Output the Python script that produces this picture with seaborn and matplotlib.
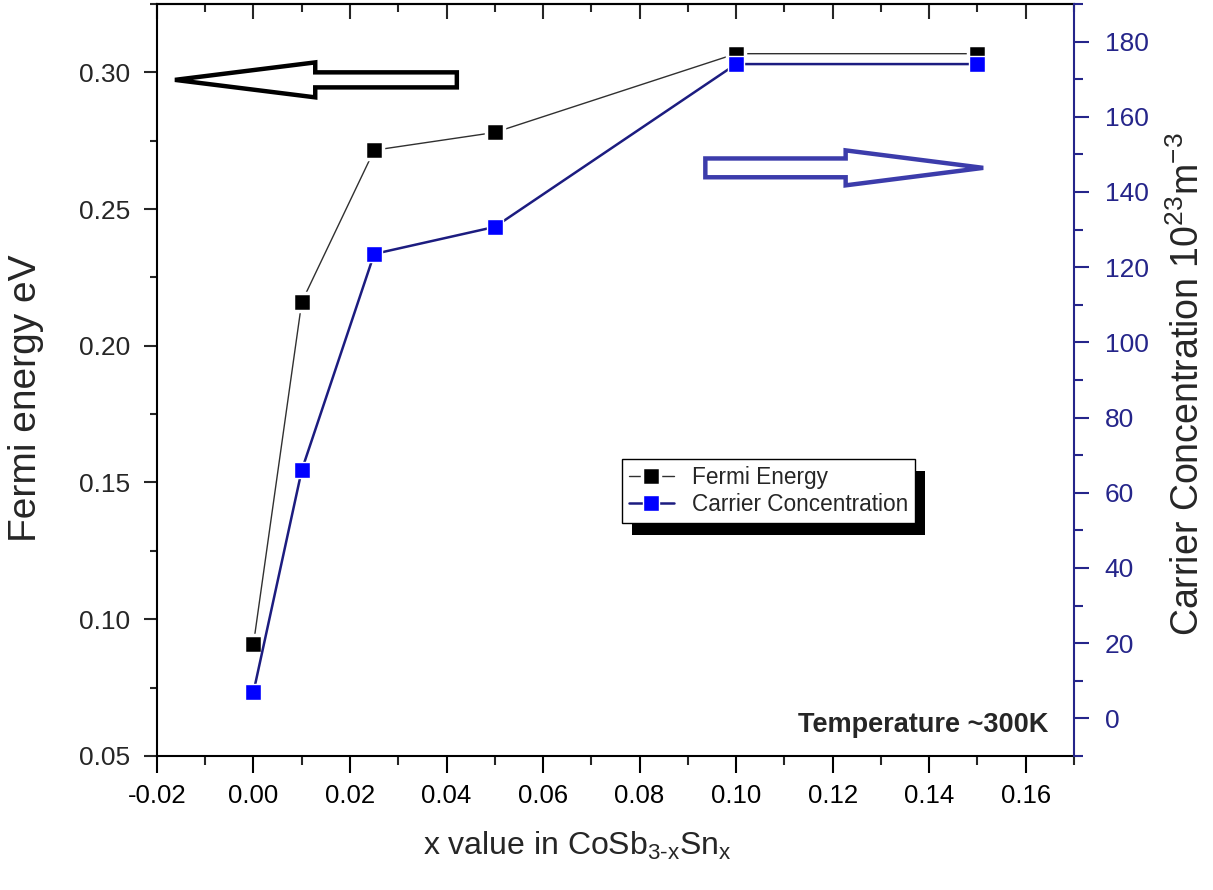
import matplotlib
matplotlib.use("Agg")
import matplotlib.pyplot as plt
import seaborn as sns
from matplotlib.patches import FancyArrow, Rectangle
from matplotlib.ticker import MultipleLocator, FormatStrFormatter
from matplotlib.transforms import IdentityTransform

# ---- data ----
x_vals = [0.0, 0.01, 0.025, 0.05, 0.10, 0.15]
fermi_energy = [0.091, 0.216, 0.2715, 0.278, 0.3068, 0.3068]
carrier_conc = [7.0, 66.0, 123.5, 130.7, 174.0, 174.0]
series_labels = ["Fermi Energy", "Carrier Concentration"]
x_label = "x value in CoSb$_{3\\text{-}x}$Sn$_{x}$"
y_label_left = "Fermi energy eV"
y_label_right = "Carrier Concentration 10$^{23}$m$^{-3}$"
note_text = "Temperature ~300K"

sns.set_style("ticks")
plt.rcParams["font.family"] = ["Liberation Sans", "DejaVu Sans"]
plt.rcParams["mathtext.fontset"] = "custom"
plt.rcParams["mathtext.rm"] = "Liberation Sans"
plt.rcParams["mathtext.it"] = "Liberation Sans"
plt.rcParams["mathtext.default"] = "regular"
plt.rcParams["axes.unicode_minus"] = False

navy = "#25258a"
blue_line = "#1c1c80"

fig = plt.figure(figsize=(12.13, 8.90), dpi=100)
ax = fig.add_axes([0.1294, 0.1506, 0.7560, 0.8450])
ax2 = ax.twinx()

sns.lineplot(x=x_vals, y=fermi_energy, ax=ax, color="#303030", lw=1.0,
             marker="s", markersize=13, markerfacecolor="black",
             markeredgecolor="white", markeredgewidth=2.5,
             label=series_labels[0], legend=False)
sns.lineplot(x=x_vals, y=carrier_conc, ax=ax2, color=blue_line, lw=1.8,
             marker="s", markersize=11.2, markerfacecolor="#0000ff",
             markeredgecolor="white", markeredgewidth=1.0,
             label=series_labels[1], legend=False)

# axes limits / ticks
ax.set_xlim(-0.02, 0.17)
ax.set_ylim(0.05, 0.325)
ax2.set_ylim(-10, 190)

ax.xaxis.set_major_locator(MultipleLocator(0.02))
ax.xaxis.set_minor_locator(MultipleLocator(0.01))
ax.xaxis.set_major_formatter(FormatStrFormatter("%.2f"))
ax.yaxis.set_major_locator(MultipleLocator(0.05))
ax.yaxis.set_minor_locator(MultipleLocator(0.025))
ax.yaxis.set_major_formatter(FormatStrFormatter("%.2f"))
ax2.yaxis.set_major_locator(MultipleLocator(20))
ax2.yaxis.set_minor_locator(MultipleLocator(10))

ax.tick_params(axis="x", which="major", direction="out", length=12, width=1.5,
               labelsize=18.5, pad=8.5, colors="black")
ax.tick_params(axis="x", which="minor", direction="out", length=6.5, width=1.5)
ax.tick_params(axis="y", which="major", direction="out", length=9.5, width=1.5,
               labelsize=19, pad=9.5)
ax.tick_params(axis="y", which="minor", direction="out", length=5, width=1.5)
ax2.tick_params(axis="y", which="major", direction="out", length=11, width=1.5,
                labelsize=19, pad=11, colors=navy)
ax2.tick_params(axis="y", which="minor", direction="out", length=6.5, width=1.5,
                colors=navy)

sec = ax.secondary_xaxis("top")
sec.xaxis.set_major_locator(MultipleLocator(0.02))
sec.xaxis.set_minor_locator(MultipleLocator(0.01))
sec.tick_params(axis="x", which="major", direction="in", length=11, width=1.5,
                labeltop=False)
sec.tick_params(axis="x", which="minor", direction="in", length=6, width=1.5)
sec.spines["top"].set_linewidth(1.5)

for s in ["left", "bottom", "top"]:
    ax.spines[s].set_linewidth(1.5)
    ax.spines[s].set_color("black")
ax.spines["right"].set_visible(False)
for s in ["left", "bottom", "top"]:
    ax2.spines[s].set_visible(False)
ax2.spines["right"].set_visible(True)
ax2.spines["right"].set_color(navy)
ax2.spines["right"].set_linewidth(1.5)

ax.set_xlabel(x_label, fontsize=23)
ax.xaxis.set_label_coords(0.458, -0.098)
ax.set_ylabel(y_label_left, fontsize=28)
ax.yaxis.set_label_coords(-0.123, 0.476)
ax2.set_ylabel(y_label_right, fontsize=27)
ax2.yaxis.set_label_coords(1.104, 0.494)

# arrows
ax.add_patch(FancyArrow(0.327, 0.899, -0.3074, 0.0, width=0.02,
                        head_width=0.0465, head_length=0.153,
                        length_includes_head=True, transform=ax.transAxes,
                        facecolor="white", edgecolor="black", linewidth=3.2,
                        joinstyle="miter", zorder=5))
ax.add_patch(FancyArrow(0.598, 0.782, 0.303, 0.0, width=0.025,
                        head_width=0.0465, head_length=0.150,
                        length_includes_head=True, transform=ax.transAxes,
                        facecolor="white", edgecolor="#3c3cab", linewidth=3.2,
                        joinstyle="miter", zorder=5))

ax.text(0.9716, 0.041, note_text, transform=ax.transAxes, ha="right",
        va="center", fontsize=19.5, fontweight="bold")

# legend
h1 = ax.get_lines()[0]
h2 = ax2.get_lines()[0]
leg = ax2.legend([h1, h2], series_labels, loc="upper left",
                 bbox_to_anchor=(0.507, 0.395), frameon=True, fancybox=False,
                 edgecolor="black", framealpha=1, fontsize=16.3,
                 handlelength=2.0, borderaxespad=0, borderpad=0.3,
                 labelspacing=0.2, handletextpad=0.8)
leg.get_frame().set_linewidth(1.0)
leg.set_zorder(6)

fig.canvas.draw()
bb = leg.get_window_extent()
shadow = Rectangle((bb.x0 + 10, bb.y0 - 12), bb.width, bb.height,
                   transform=IdentityTransform(), facecolor="black",
                   edgecolor="none", zorder=5.5)
ax2.add_artist(shadow)

fig.savefig("out.png", dpi=100)
